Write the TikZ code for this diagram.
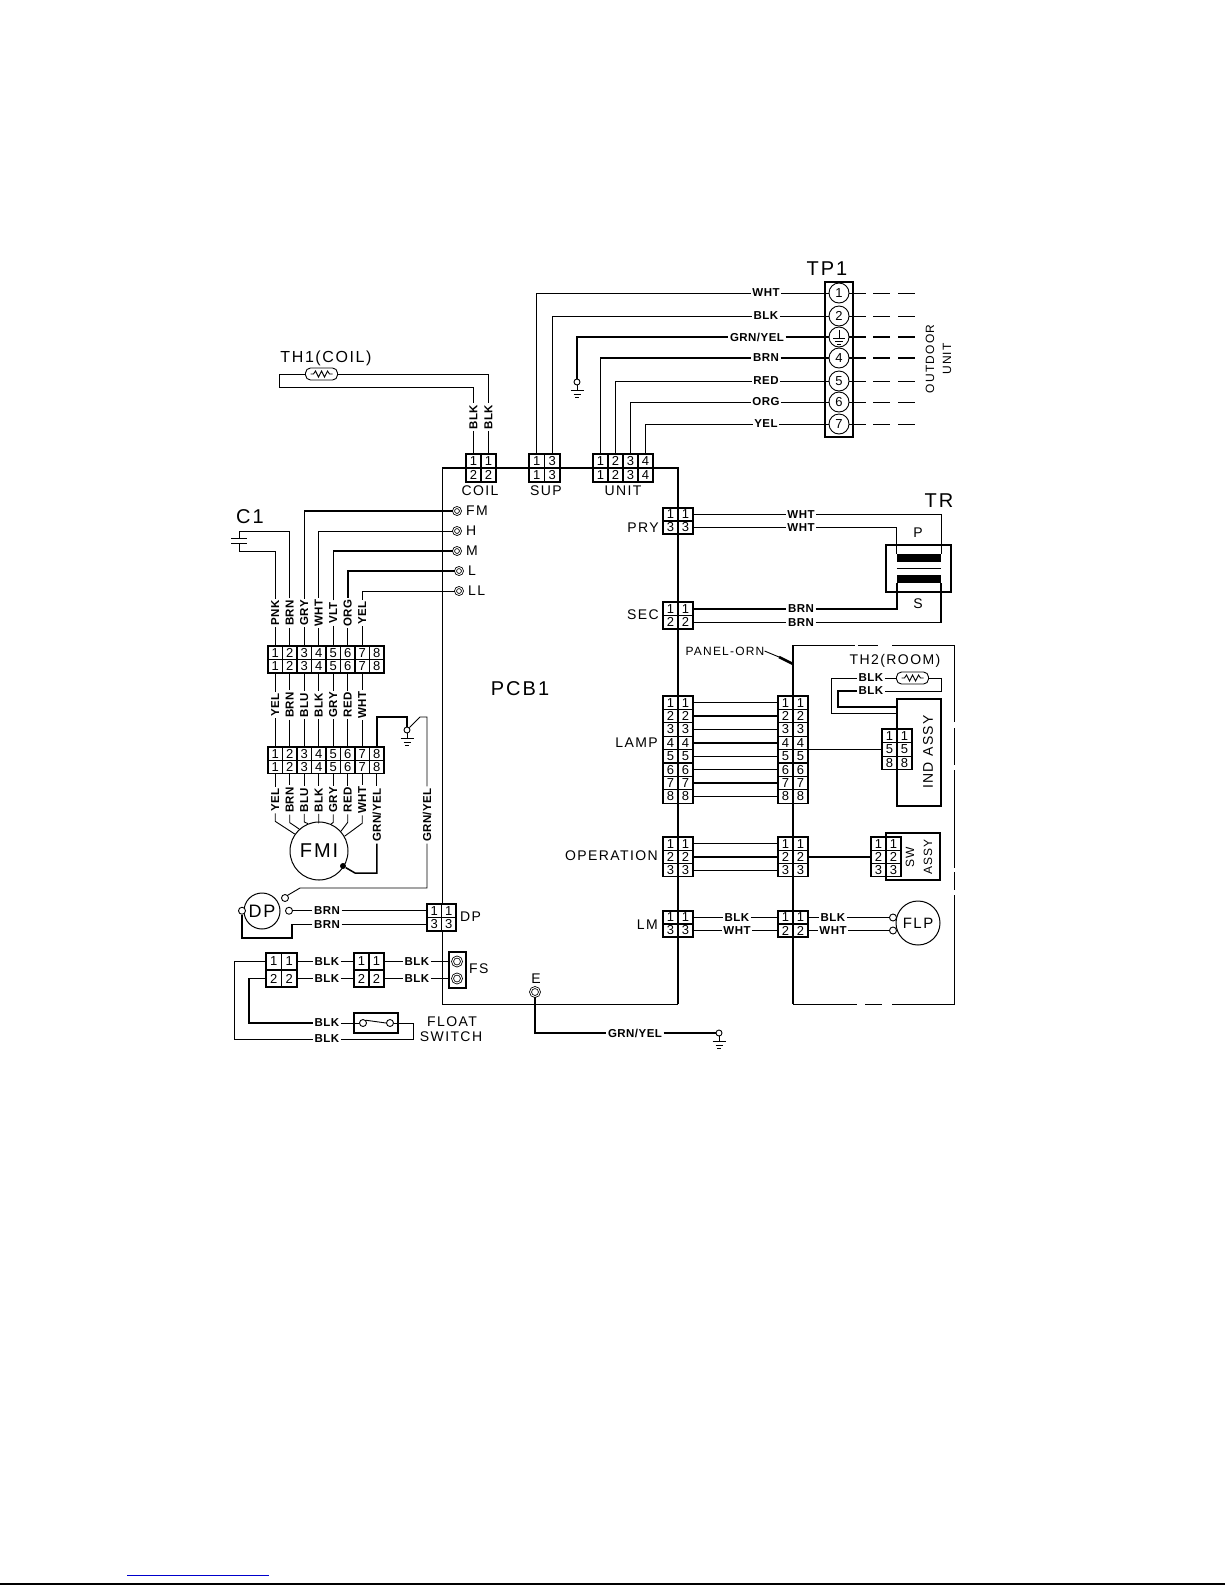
\documentclass[tikz,border=0pt]{standalone}
\usepackage{fontspec}
\setmainfont[LetterSpace=10]{Liberation Sans}
\newfontfamily\wirefont[LetterSpace=4]{Liberation Sans}
\definecolor{linkblue}{RGB}{0,0,204}

\tikzset{
  wire/.style={line width=.9pt},
  hwire/.style={line width=1.5pt},
  lbl/.style={font=\fontsize{14}{16}\selectfont,inner sep=0pt},
  bigl/.style={font=\fontsize{20}{22}\selectfont,inner sep=0pt},
  smll/.style={font=\fontsize{12}{14}\selectfont,inner sep=0pt},
  wlab/.style={font=\wirefont\bfseries\fontsize{11.5}{13}\selectfont,inner sep=1.5pt},
  vlab/.style={wlab,rotate=90},
  cellbox/.style={draw,line width=1.1pt,fill=white,inner sep=0pt,font=\wirefont\fontsize{13}{13}\selectfont},
  term/.style={circle,draw,line width=.9pt,fill=white,inner sep=0pt,minimum size=7pt},
  lug/.style={circle,draw,double,double distance=1pt,line width=.8pt,fill=white,inner sep=0pt,minimum size=7pt},
  tpcirc/.style={circle,draw,line width=.9pt,fill=white,inner sep=0pt,minimum size=20pt,font=\wirefont\fontsize{13}{13}\selectfont},
  motor/.style={circle,draw,line width=1pt,inner sep=0pt,fill=white},
  box/.style={draw,line width=1.1pt,inner sep=0pt},
  coilbar/.style={fill=black,inner sep=0pt,minimum width=44pt,minimum height=8pt},
  ptcbox/.style={draw,line width=.9pt,rounded corners=5pt,fill=white,inner sep=0pt,minimum width=32pt,minimum height=12pt},
}

% connector: name, left, top, cell width, cell height, rows
\newcommand{\plug}[6]{%
  \foreach \r [count=\j] in {#6}
    \foreach \d [count=\i] in \r
      \node[cellbox,minimum width=#4pt,minimum height=#5pt] (#1-\j-\i) at ({#2+(\i-.5)*#4},{#3+(\j-.5)*#5}) {\d};
}
% earth point with its three bars
\newcommand{\earth}[3]{%
  \node[term,minimum size=6pt] (#1) at (#2,#3) {};
  \draw[wire] (#1.south) -- ++(0,5) ++(-6.5,0) -- ++(13,0) ++(-10,3.5) -- ++(7,0) ++(-5.5,3.5) -- ++(4,0);
}
% thermistor
\newcommand{\ptc}[3]{%
  \node[ptcbox] (#1) at (#2,#3) {};
  \draw[wire] (#1.center) ++(-11,0) -- ++(3,0) -- ++(2,-3) -- ++(3,6) -- ++(3,-6) -- ++(3,6) -- ++(3,-6) -- ++(2,3) -- ++(3,0);
}

\begin{document}
\begin{tikzpicture}[x=1pt,y=-1pt]
\useasboundingbox (0,0) rectangle (1225,1585);

% PCB outline
\draw[wire] (678,1004) -- (442,1004) -- (442,468);
\draw[hwire] (442,468) -- (678,468) -- (678,1004);
\node[bigl] (pcbtxt) at (520,689) {PCB1};

% Panel outline (broken in places)
\draw[hwire] (793,645) -- (793,1004);
\foreach \a/\b in {793/855,858/878,892/954}
  \draw[wire] (\a,645) -- (\b,645);
\foreach \a/\b in {645/722,728/765,770/868,872/890,895/1004}
  \draw[wire] (954,\a) -- (954,\b);
\foreach \a/\b in {793/857,865/882,892/955}
  \draw[wire] (\a,1004) -- (\b,1004);

% Assemblies on the panel
\node[box,minimum width=44pt,minimum height=107pt] (indbox) at (919,752.5) {};
\node[lbl,rotate=90] (indtxt) at (928,752) {IND ASSY};
\node[box,line width=1.4pt,minimum width=54pt,minimum height=47pt] (swbox) at (913,856.5) {};
\node[smll,rotate=90] (swtxt) at (910,857) {SW};
\node[smll,rotate=90] (assytxt) at (928,857) {ASSY};

% Connectors
\plug{coil}{466}{454}{15}{14}{{1,1},{2,2}}
\plug{sup}{529}{454}{15.5}{14}{{1,3},{1,3}}
\plug{unit}{593}{454}{15}{14}{{1,2,3,4},{1,2,3,4}}
\plug{pry}{663}{508}{15}{13}{{1,1},{3,3}}
\plug{sec}{663}{602}{15}{13.5}{{1,1},{2,2}}
\plug{fma}{268}{646}{14.5}{13.5}{{1,2,3,4,5,6,7,8},{1,2,3,4,5,6,7,8}}
\plug{fmb}{268}{747}{14.5}{13.2}{{1,2,3,4,5,6,7,8},{1,2,3,4,5,6,7,8}}
\plug{lampl}{663}{696}{15}{13.4}{{1,1},{2,2},{3,3},{4,4},{5,5},{6,6},{7,7},{8,8}}
\plug{lampr}{778}{696}{15}{13.4}{{1,1},{2,2},{3,3},{4,4},{5,5},{6,6},{7,7},{8,8}}
\plug{indc}{882}{729}{15}{13.6}{{1,1},{5,5},{8,8}}
\plug{opl}{663}{837}{15}{13.3}{{1,1},{2,2},{3,3}}
\plug{opr}{778}{837}{15}{13.3}{{1,1},{2,2},{3,3}}
\plug{swc}{871}{837}{15}{13.3}{{1,1},{2,2},{3,3}}
\plug{lml}{663}{911}{15}{13}{{1,1},{3,3}}
\plug{lmr}{778}{911}{15}{13}{{1,1},{2,2}}
\plug{dpc}{427}{904}{14.5}{13.5}{{1,1},{3,3}}
\plug{fsa}{266}{953}{15.5}{17}{{1,1},{2,2}}
\plug{fsb}{354}{953}{15}{17}{{1,1},{2,2}}
\draw[line width=1.8pt] (fsa-1-1.north west) rectangle (fsa-2-2.south east);

% Connector names
\node[lbl] (coiltxt) at (480,491) {COIL};
\node[lbl] (suptxt) at (546,491) {SUP};
\node[lbl] (unittxt) at (623,491) {UNIT};
\node[lbl,anchor=east] (prytxt) at (659,528) {PRY};
\node[lbl,anchor=east] (sectxt) at (659,615) {SEC};
\node[lbl,anchor=east] (lamptxt) at (658,743) {LAMP};
\node[lbl,anchor=east] (optxt) at (658,856) {OPERATION};
\node[lbl,anchor=east] (lmtxt) at (658,925) {LM};
\node[lbl,anchor=west] (dptxt) at (460,917) {DP};

% TP1 block
\node[box,minimum width=28pt,minimum height=155pt] (tpbox) at (839,359.5) {};
\node[bigl] (tptxt) at (827,269) {TP1};
\foreach \n/\y/\t/\s in {1/293/1/wire,2/316/2/wire,3/337//hwire,4/358/4/hwire,5/381/5/wire,6/402/6/wire,7/424/7/wire} {
  \node[tpcirc] (tp\n) at (839,\y) {\t};
  \coordinate (out\n) at (915,\y);
  \draw[\s,dash pattern=on 17pt off 7pt on 17pt off 8pt on 17pt] (tp\n.east) -- (out\n);
}
\draw[wire] (tp3.center) ++(0,-7) -- ++(0,8) ++(-6,0) -- ++(12,0) ++(-10,3) -- ++(8,0) ++(-6,3) -- ++(4,0);
\node[smll,rotate=90] (outdtxt) at (930,359) {OUTDOOR};
\node[smll,rotate=90] (unit2txt) at (947,359) {UNIT};

% Wires to TP1
\node[wlab] (whtl) at (766,293) {WHT};
\node[wlab] (blkl) at (766,316) {BLK};
\node[wlab] (gyl) at (757,337) {GRN/YEL};
\node[wlab] (brnl) at (766,358) {BRN};
\node[wlab] (redl) at (766,381) {RED};
\node[wlab] (orgl) at (766,402) {ORG};
\node[wlab] (yell) at (766,424) {YEL};
\foreach \n/\l/\s in {1/whtl/wire,2/blkl/wire,3/gyl/hwire,4/brnl/hwire,5/redl/wire,6/orgl/wire,7/yell/wire}
  \draw[\s] (\l.east) -- (tp\n.west);
\draw[wire] (sup-1-1.north) |- (whtl.west);
\draw[wire] (sup-1-2.north) |- (blkl.west);
\earth{gnda}{577}{382}
\draw[hwire] (gnda.north) |- (gyl.west);
\draw[hwire] (unit-1-1.north) |- (brnl.west);
\draw[wire] (unit-1-2.north) |- (redl.west);
\draw[wire] (unit-1-3.north) |- (orgl.west);
\draw[wire] (unit-1-4.north) |- (yell.west);

% TH1
\node[lbl,font=\fontsize{16}{18}\selectfont] (th1txt) at (326,358) {TH1(COIL)};
\ptc{th1}{321.5}{374}
\coordinate (th1a) at (279,374);
\coordinate (th1b) at (279,387);
\node[vlab] (bka) at (coil-1-1 |- 0,417) {BLK};
\node[vlab] (bkb) at (coil-1-2 |- 0,417) {BLK};
\draw[wire] (th1.east) -| (bkb.east);
\draw[wire] (th1.west) -- (th1a) -- (th1b) -| (bka.east);
\draw[hwire] (bka.west) -- (coil-1-1.north);
\draw[wire] (bkb.west) -- (coil-1-2.north);

% Transformer
\node[bigl] (trtxt) at (939,501) {TR};
\node[box,line width=1.4pt,minimum width=65pt,minimum height=47pt] (trbox) at (918.5,568.5) {};
\node[coilbar] (pcoil) at (919,558) {};
\node[coilbar] (scoil) at (919,579) {};
\draw[wire] (pcoil.west |- trbox) -- (pcoil.east |- trbox);
\node[lbl] (ptxt) at (918,533) {P};
\node[lbl] (stxt) at (918,604) {S};
\node[wlab] (pra) at (801,0 |- pry-1-2) {WHT};
\node[wlab] (prb) at (801,0 |- pry-2-2) {WHT};
\node[wlab] (sea) at (801,0 |- sec-1-2) {BRN};
\node[wlab] (seb) at (801,0 |- sec-2-2) {BRN};
\draw[wire] (pry-1-2.east) -- (pra.west);
\draw[wire] (pry-2-2.east) -- (prb.west);
\draw[wire] (pra.east) -| (pcoil.north east);
\draw[wire] (prb.east) -| (pcoil.north west);
\draw[hwire] (sec-1-2.east) -- (sea.west);
\draw[hwire] (sec-2-2.east) -- (seb.west);
\draw[hwire] (sea.east) -| (scoil.south west);
\draw[hwire] (seb.east) -| (scoil.south east);

% PCB fan terminals
\foreach \n/\y/\t/\xx in {fm/511/FM/457,h/531/H/457,m/551/M/457,l/571/L/459,ll/591/LL/459} {
  \node[lug] (\n) at (\xx,\y) {};
  \node[lbl,anchor=west] (\n txt) at (\xx+9,\y) {\t};
}

% C1
\node[bigl] (c1txt) at (250,517) {C1};
\coordinate (c1in) at (239,531);
\coordinate (capa) at (239,538);
\coordinate (capb) at (239,543);
\coordinate (c1out) at (239,551);
\draw[wire] (capa) ++(-8,0) -- ++(16,0);
\draw[wire] (capb) ++(-8,0) -- ++(16,0);

% Fan harness, upper
\foreach \n/\t in {1/PNK,2/BRN,3/GRY,4/WHT,5/VLT,6/ORG,7/YEL} {
  \node[vlab] (up\n) at (fma-1-\n |- 0,613) {\t};
  \draw[wire] (up\n.west) -- (fma-1-\n.north);
}
\draw[wire] (up1.east) |- (c1out) -- (capb);
\draw[wire] (up2.east) |- (c1in) -- (capa);
\draw[hwire] (up3.east) |- (fm.west);
\draw[wire] (up4.east) |- (h.west);
\draw[hwire] (up5.east) |- (m.west);
\draw[hwire] (up6.east) |- (l.west);
\draw[wire] (up7.east) |- (ll.west);

% Fan harness, middle
\foreach \n/\t in {1/YEL,2/BRN,3/BLU,4/BLK,5/GRY,6/RED,7/WHT} {
  \node[vlab] (mid\n) at (fma-2-\n |- 0,705) {\t};
  \draw[wire] (fma-2-\n.south) -- (mid\n.east);
  \draw[wire] (mid\n.west) -- (fmb-1-\n.north);
}

% Fan motor and its leads
\node[motor,minimum size=58pt,font=\fontsize{20}{22}\selectfont] (fmi) at (319,851) {FMI};
\foreach \n/\t/\a in {1/YEL/145,2/BRN/132,3/BLU/112,4/BLK/90,5/GRY/66,6/RED/42,7/WHT/30} {
  \node[vlab] (low\n) at (fmb-2-\n |- 0,800) {\t};
  \draw[wire] (fmb-2-\n.south) -- (low\n.east);
  \draw[wire] (low\n.west) -- ++(0,8) -- (fmi.\a);
}
\node[vlab] (low8) at (fmb-2-8 |- 0,815) {GRN/YEL};
\draw[wire] (fmb-2-8.south) -- (low8.east);
\node[circle,fill=black,inner sep=0pt,minimum size=6pt] (mdot) at (343,866) {};
\coordinate (mgnd2) at (355,873);
\draw[hwire] (low8.west) |- (mgnd2) -- (mdot);

% Earth at the harness
\earth{gndb}{407}{730}
\coordinate (gbtop) at (407,717);
\coordinate (gbd) at (420,717);
\coordinate (gbe) at (427,717);
\node[vlab] (dpgy) at (427,815) {GRN/YEL};
\draw[hwire] (fmb-1-8.north) |- (gbtop) -- (gndb.north);
\draw[wire] (gndb.north east) -- (gbd) -- (gbe) -- (dpgy.east);

% DP
\node[motor,minimum size=36pt,font=\fontsize{18}{20}\selectfont] (dp) at (262,911) {DP};
\node[term] (dpl) at (242,0 |- dpc-1-1) {};
\node[term] (dpr) at (289,0 |- dpc-1-1) {};
\node[term] (dpu) at (285,898) {};
\coordinate (dpbend) at (300,888);
\draw[wire] (dpgy.west) |- (dpbend) -- (dpu.north east);
\node[wlab] (dpa) at (327,0 |- dpc-1-1) {BRN};
\node[wlab] (dpb) at (327,0 |- dpc-2-1) {BRN};
\coordinate (dpd) at (292,938);
\draw[wire] (dpr.east) -- (dpa.west);
\draw[wire] (dpa.east) -- (dpc-1-1.west);
\draw[hwire] (dpb.east) -- (dpc-2-1.west);
\draw[hwire] (dpb.west) -| (dpd) -| (dpl.south);

% FS and float switch
\node[box,line width=1.4pt,minimum width=17pt,minimum height=36pt] (fsbox) at (457.5,970) {};
\node[lug,minimum size=9pt] (fsu) at (457,0 |- fsa-1-1) {};
\node[lug,minimum size=9pt] (fsd) at (457,0 |- fsa-2-1) {};
\node[lbl,anchor=west] (fstxt) at (469,969) {FS};
\node[wlab] (ka) at (327,0 |- fsa-1-1) {BLK};
\node[wlab] (kb) at (327,0 |- fsa-2-1) {BLK};
\node[wlab] (kc) at (417,0 |- fsa-1-1) {BLK};
\node[wlab] (kd) at (417,0 |- fsa-2-1) {BLK};
\node[wlab] (ke) at (327,1023) {BLK};
\node[wlab] (kf) at (327,1039) {BLK};
\draw[wire] (fsa-1-2.east) -- (ka.west);
\draw[wire] (fsa-2-2.east) -- (kb.west);
\draw[wire] (ka.east) -- (fsb-1-1.west);
\draw[wire] (kb.east) -- (fsb-2-1.west);
\draw[wire] (fsb-1-2.east) -- (kc.west);
\draw[wire] (fsb-2-2.east) -- (kd.west);
\draw[wire] (kc.east) -- (kc.east -| fsbox.west);
\draw[wire] (kd.east) -- (kd.east -| fsbox.west);
\node[box,minimum width=44pt,minimum height=20pt] (swfl) at (376,1023) {};
\node[term] (swa) at (363,1023) {};
\node[term] (swb) at (390,1023) {};
\coordinate (fla) at (234,1039);
\coordinate (flb) at (249,1023);
\coordinate (flc) at (413,1023);
\draw[wire] (fsa-1-1.west) -| (fla) -- (kf.west);
\draw[hwire] (fsa-2-1.west) -| (flb) -- (ke.west);
\draw[wire] (ke.east) -- (swa.west);
\draw[wire] (swa.north east) -- (swb.west);
\draw[wire] (swb.east) -- (flc) |- (kf.east);
\node[lbl] (floattxt) at (452,1022) {FLOAT};
\node[lbl] (switchtxt) at (451,1037) {SWITCH};

% E terminal
\node[lbl] (etxt) at (536,979) {E};
\node[lug,minimum size=9pt] (elug) at (535,992) {};
\node[wlab] (egy) at (635,1033) {GRN/YEL};
\earth{gndc}{719}{1033}
\draw[hwire] (elug.south) |- (egy.west);
\draw[hwire] (egy.east) -- (gndc.west);

% LAMP and OPERATION leads
\foreach \n/\s in {1/wire,2/hwire,3/wire,4/hwire,5/hwire,6/wire,7/hwire,8/wire}
  \draw[\s] (lampl-\n-2.east) -- (lampr-\n-1.west);
\draw[wire] (lampr-5-2.east |- indc-2-1.west) -- (indc-2-1.west);
\foreach \n/\s in {1/wire,2/hwire,3/wire}
  \draw[\s] (opl-\n-2.east) -- (opr-\n-1.west);
\draw[hwire] (opr-2-2.east) -- (swc-2-1.west);

% LM and FLP
\node[wlab] (lma) at (737,0 |- lml-1-2) {BLK};
\node[wlab] (lmb) at (737,0 |- lml-2-2) {WHT};
\node[wlab] (fla2) at (833,0 |- lmr-1-2) {BLK};
\node[wlab] (flb2) at (833,0 |- lmr-2-2) {WHT};
\node[motor,minimum size=44pt,font=\fontsize{15}{17}\selectfont] (flp) at (918,923) {FLP};
\node[term] (fpa) at (893,0 |- lmr-1-2) {};
\node[term] (fpb) at (893,0 |- lmr-2-2) {};
\draw[wire] (lml-1-2.east) -- (lma.west);
\draw[wire] (lml-2-2.east) -- (lmb.west);
\draw[wire] (lma.east) -- (lmr-1-1.west);
\draw[wire] (lmb.east) -- (lmr-2-1.west);
\draw[wire] (lmr-1-2.east) -- (fla2.west);
\draw[wire] (lmr-2-2.east) -- (flb2.west);
\draw[wire] (fla2.east) -- (fpa.west);
\draw[wire] (flb2.east) -- (fpb.west);

% TH2
\node[lbl] (th2txt) at (895,661) {TH2(ROOM)};
\ptc{th2}{912.5}{678}
\node[wlab] (tba) at (871,678) {BLK};
\node[wlab] (tbb) at (871,691) {BLK};
\coordinate (tbc) at (941,691);
\coordinate (tbd) at (831,713);
\coordinate (tbe) at (838,707);
\draw[wire] (tba.east) -- (th2.west);
\draw[wire] (th2.east) -| (tbc) -- (tbb.east);
\draw[wire] (tba.west) -| (tbd) -- (indbox.west |- tbd);
\draw[hwire] (tbb.west) -| (tbe) -- (indbox.west |- tbe);

% Panel earth tag
\node[smll] (pnltxt) at (725,651) {PANEL-ORN};
\coordinate (pnlmid) at (779,657);
\coordinate (pnltip) at (793,664);
\draw[wire] (pnltxt.east) -- (pnlmid);
\draw[line width=2.6pt] (pnlmid) -- (pnltip);

% Page marks
\draw[linkblue,line width=1.2pt] (127,1575.5) -- (269,1575.5);
\draw[line width=1.5pt] (0,1584.2) -- (1225,1584.2);

\end{tikzpicture}
\end{document}
